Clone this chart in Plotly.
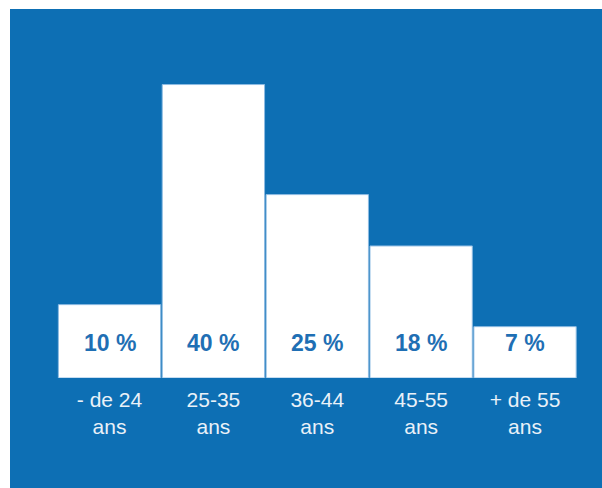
import plotly.graph_objects as go

# Age bracket distribution
categories = ["- de 24<br>ans", "25-35<br>ans", "36-44<br>ans", "45-55<br>ans", "+ de 55<br>ans"]
shares = [10, 40, 25, 18, 7]

BLUE = "#0d6fb4"
positions = list(range(len(categories)))

fig = go.Figure(
    go.Bar(
        x=positions,
        y=shares,
        width=0.985,
        marker=dict(color="white", line=dict(color="#8dbbe2", width=1)),
        hoverinfo="skip",
    )
)

# Percentage labels sitting near the base of each bar
for xi, v in zip(positions, shares):
    fig.add_annotation(
        x=xi, y=4.8, text=f"<b>{v} %</b>", showarrow=False,
        font=dict(family="Liberation Sans, Arial, sans-serif", size=23, color="#1f6fb4"),
        xanchor="center", yanchor="middle",
    )

W, H = 602, 488
ml, mt, mb = 10, 9, 110
pw, ph = W - ml, H - mt - mb

# white strips framing the blue panel on the top and left
fig.add_shape(type="rect", xref="paper", yref="paper", x0=-ml / pw - 0.02, x1=1.02,
              y0=1, y1=1 + mt / ph + 0.02, fillcolor="white", line_width=0, layer="above")
fig.add_shape(type="rect", xref="paper", yref="paper", x0=-ml / pw - 0.02, x1=0,
              y0=-mb / ph - 0.02, y1=1.02, fillcolor="white", line_width=0, layer="above")

fig.update_layout(
    width=W, height=H,
    margin=dict(l=ml, r=0, t=mt, b=mb, pad=0),
    paper_bgcolor=BLUE, plot_bgcolor=BLUE,
    showlegend=False,
    xaxis=dict(
        range=[-0.958, 4.741], tickmode="array", tickvals=positions, ticktext=categories,
        showgrid=False, zeroline=False, showline=False, ticks="",
        ticklabelstandoff=7,
        tickfont=dict(family="Liberation Sans, Arial, sans-serif", size=21, color="#e9f1f8"),
        fixedrange=True,
    ),
    yaxis=dict(range=[0, 50.3], visible=False, fixedrange=True),
)

fig.write_html("out.html", config={"displayModeBar": False})
